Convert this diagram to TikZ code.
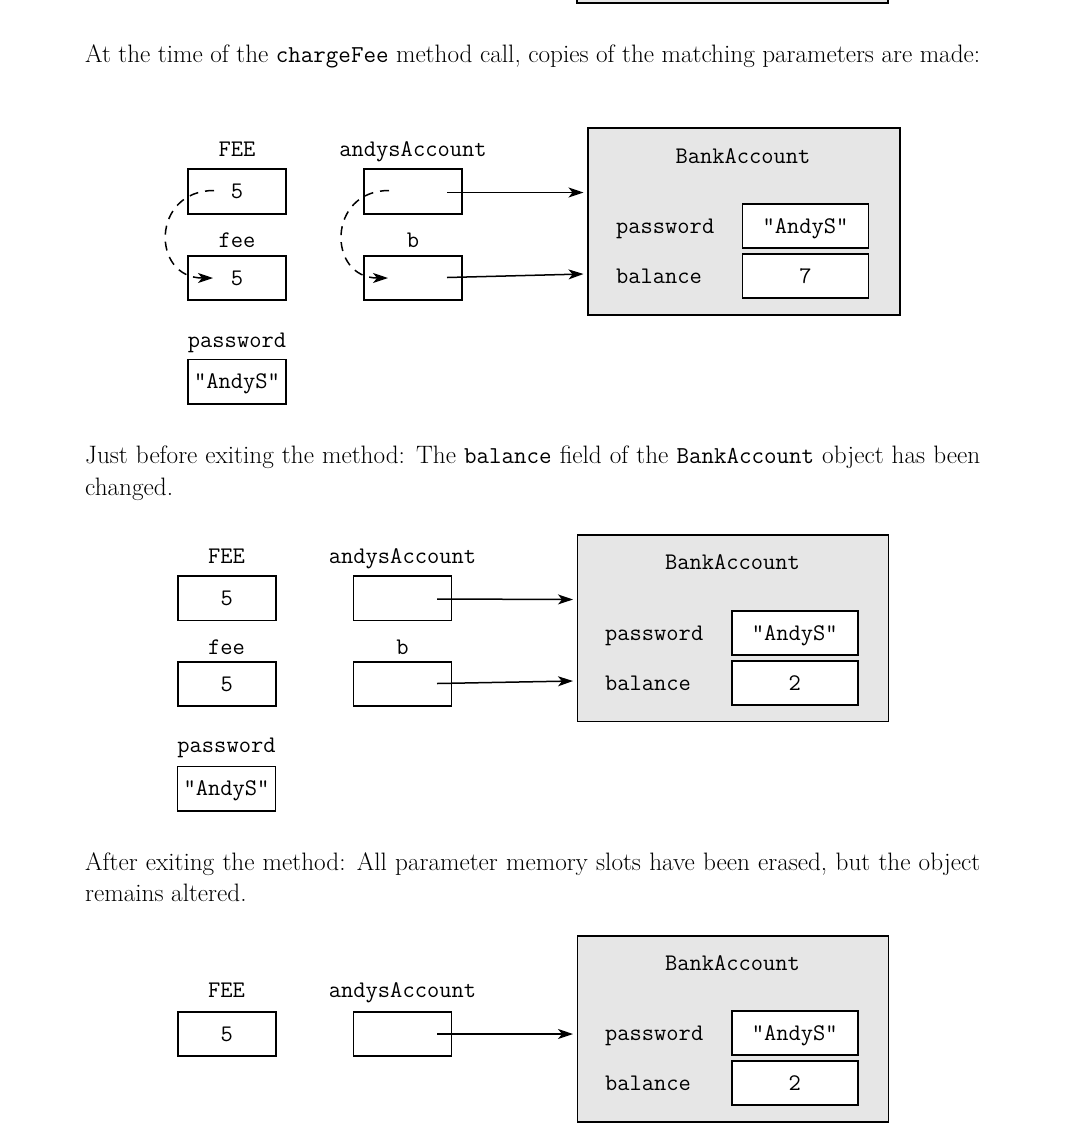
\documentclass[tikz,border=0pt]{standalone}
\usepackage{fontspec}
\usetikzlibrary{arrows.meta}
\definecolor{objgray}{HTML}{E6E6E6}
\newcommand{\ttsz}{\fontsize{23.8}{28}\selectfont\ttfamily}
\newcommand{\rmsz}{\fontsize{25.2}{32}\selectfont\rmfamily}
\newcommand{\bodytt}[1]{{\fontsize{24.3}{32}\selectfont\ttfamily #1}}
\begin{document}
\begin{tikzpicture}[x=1pt,y=-1pt,
  lbl/.style={font=\ttsz, inner sep=0pt, text height=14pt, text depth=0pt},
  cell/.style={draw, line width=1.7pt, fill=white, minimum width=98pt, minimum height=44.5pt,
    inner sep=0pt, font=\ttsz, text height=14pt, text depth=0pt},
  valcell/.style={cell, minimum width=126pt},
  obj/.style={draw, line width=1.7pt, fill=objgray, inner sep=0pt, anchor=north west},
  ptr/.style={line width=1.5pt, -{Stealth[length=15pt,width=10pt,inset=4pt]}},
  copyarrow/.style={line width=1.5pt, dash pattern=on 9pt off 7pt,
    -{Stealth[length=15pt,width=10pt,inset=4pt]}},
  para/.style={anchor=base west, inner sep=0pt, font=\rmsz}
]
\useasboundingbox (0,0) rectangle (1090,1136);

% partial object at the top
\path[draw, line width=1.7pt, fill=objgray] (576.7,-20) rectangle (887.7,3);

% ---------- texts ----------
\node[para] (t1) at (85,62) {\makebox[895pt][s]{At the time of the \bodytt{chargeFee} method call, copies of the matching parameters are made:}};
\node[para] (t2a) at (85,463) {\makebox[895pt][s]{Just before exiting the method: The \bodytt{balance} field of the \bodytt{BankAccount} object has been}};
\node[para] (t2b) at (85,495) {changed.};
\node[para] (t3a) at (85,870) {\makebox[895pt][s]{After exiting the method: All parameter memory slots have been erased, but the object}};
\node[para] (t3b) at (85,901) {remains altered.};

% ---------- diagram 1 ----------
\node[obj, minimum width=312pt, minimum height=187pt] (o1) at (587,127) {};
\node[lbl] (o1t) at (743,156) {BankAccount};
\node[lbl, anchor=west] (o1pl) at (616,226) {password};
\node[valcell] (o1pv) at (805.5,226) {"AndyS"};
\node[lbl, anchor=west] (o1bl) at (616,276) {balance};
\node[valcell] (o1bv) at (805.5,276) {7};

\node[lbl] (feeL1) at (237,149.5) {FEE};
\node[cell] (fee1) at (237,191.5) {5};
\node[lbl] (feepL1) at (237,240) {fee};
\node[cell] (feep1) at (237,278) {5};
\node[lbl] (pwL1) at (237,340.5) {password};
\node[cell] (pw1) at (237,381.7) {"AndyS"};
\node[lbl] (acL1) at (413,149.5) {andysAccount};
\node[cell] (ac1) at (413,191.5) {};
\node[lbl] (bL1) at (413,240) {b};
\node[cell] (b1) at (413,278) {};

\coordinate (ac1s) at (447,192.5);
\coordinate (ac1e) at (583.5,192.5);
\coordinate (b1s) at (447,277.5);
\coordinate (b1e) at (583.5,274);
\draw[ptr] (ac1s) -- (ac1e);
\draw[ptr] (b1s) -- (b1e);

\coordinate (c1s) at (214,190.5);
\coordinate (c1e) at (213,278);
\draw[copyarrow] (c1s) .. controls (151,190.5) and (151,278) .. (c1e);
\coordinate (c2s) at (389,190.5);
\coordinate (c2e) at (388,278);
\draw[copyarrow] (c2s) .. controls (327,190.5) and (327,278) .. (c2e);

% ---------- diagram 2 ----------
\node[obj, minimum width=311pt, minimum height=186.4pt] (o2) at (576.7,534.3) {};
\node[lbl] (o2t) at (732.5,562.7) {BankAccount};
\node[lbl, anchor=west] (o2pl) at (605,633) {password};
\node[valcell] (o2pv) at (794.7,633) {"AndyS"};
\node[lbl, anchor=west] (o2bl) at (605,683) {balance};
\node[valcell] (o2bv) at (794.7,683) {2};

\node[lbl] (feeL2) at (226.5,556) {FEE};
\node[cell] (fee2) at (226.7,598.3) {5};
\node[lbl] (feepL2) at (226.5,647) {fee};
\node[cell] (feep2) at (226.7,684) {5};
\node[lbl] (pwL2) at (226.5,745.5) {password};
\node[cell] (pw2) at (226.5,788.6) {"AndyS"};
\node[lbl] (acL2) at (402.5,556) {andysAccount};
\node[cell] (ac2) at (402.5,598.3) {};
\node[lbl] (bL2) at (402.5,647) {b};
\node[cell] (b2) at (402.5,684) {};

\coordinate (ac2s) at (437,599);
\coordinate (ac2e) at (573,599.5);
\coordinate (b2s) at (437,683.5);
\coordinate (b2e) at (573,681);
\draw[ptr] (ac2s) -- (ac2e);
\draw[ptr] (b2s) -- (b2e);

% ---------- diagram 3 ----------
\node[obj, minimum width=311pt, minimum height=186pt] (o3) at (576.7,935) {};
\node[lbl] (o3t) at (732.5,963.5) {BankAccount};
\node[lbl, anchor=west] (o3pl) at (605,1033.5) {password};
\node[valcell] (o3pv) at (794.7,1033) {"AndyS"};
\node[lbl, anchor=west] (o3bl) at (605,1083) {balance};
\node[valcell] (o3bv) at (794.7,1083) {2};

\node[lbl] (feeL3) at (226.5,990.5) {FEE};
\node[cell] (fee3) at (226.7,1034) {5};
\node[lbl] (acL3) at (402.5,990.5) {andysAccount};
\node[cell] (ac3) at (402.5,1034) {};

\coordinate (ac3s) at (437,1034);
\coordinate (ac3e) at (573,1034);
\draw[ptr] (ac3s) -- (ac3e);
\end{tikzpicture}
\end{document}
